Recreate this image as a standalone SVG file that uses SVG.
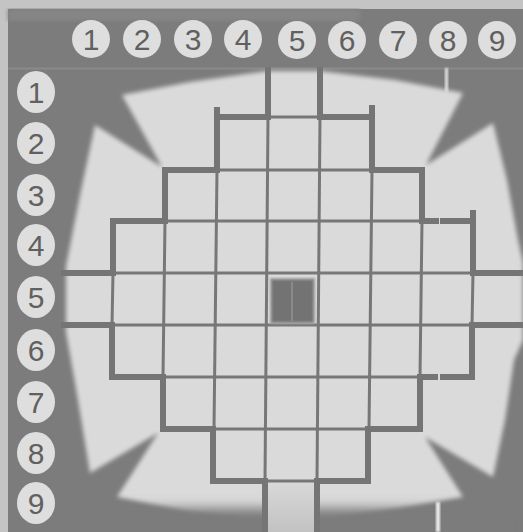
<svg xmlns="http://www.w3.org/2000/svg" width="523" height="532" viewBox="0 0 523 532">
<defs>
<filter id="soft" x="-5%" y="-5%" width="110%" height="110%"><feGaussianBlur stdDeviation="2"/></filter>
<filter id="soft1" x="-20%" y="-20%" width="140%" height="140%"><feGaussianBlur stdDeviation="1"/></filter>
<filter id="haze" x="-20%" y="-80%" width="140%" height="260%"><feGaussianBlur stdDeviation="6"/></filter>
<linearGradient id="cellShade" x1="0" y1="0" x2="0" y2="1"><stop offset="0" stop-color="#d9d9d9"/><stop offset="1" stop-color="#c2c2c2"/></linearGradient>
</defs>
<style>
.thin{stroke:#777777;stroke-width:3;fill:none}
.thick{stroke:#757575;stroke-width:6;fill:none;stroke-linecap:square}
.badge circle,.badge ellipse{fill:#dedede}
.badge text{font-family:'Liberation Sans',Arial,sans-serif;font-size:30px;fill:#606060;text-anchor:middle}
</style>
<g id="background">
<rect width="523" height="532" fill="#c4c4c4"/>
<rect x="8" y="9" width="515" height="523" fill="#7c7c7c"/>
<rect x="8" y="9" width="352" height="12" fill="#858585" filter="url(#soft)"/>
<line x1="8" y1="68.5" x2="523" y2="68.5" stroke="#8a8a8a" stroke-width="2"/>
<polygon fill="#dadada" filter="url(#soft)" points="122,95 190,82 268,71 320,71 395,80 463,93 426,165 493,123 507,180 518,240 523,262 523,340 514,360 505,420 493,477 425,437 463,497 400,508 330,518 265,520 190,512 117,497 158,433 90,473 78,400 66,332 66,266 80,195 95,125 162,167"/>
<rect x="60" y="508" width="450" height="40" fill="#7c7c7c" filter="url(#haze)"/>
<rect x="268" y="481" width="50" height="51" fill="url(#cellShade)"/>
<rect x="436" y="502" width="4" height="30" fill="#ececec" filter="url(#soft1)"/>
<rect x="445" y="68" width="3" height="24" fill="#e2e2e2" filter="url(#soft1)"/>
</g>
<g id="grid">
<g class="thin">
<line x1="268" y1="117" x2="320" y2="117"/>
<line x1="217" y1="170" x2="372" y2="170"/>
<line x1="165" y1="221" x2="422" y2="221"/>
<line x1="113" y1="273" x2="473" y2="273"/>
<line x1="112" y1="325" x2="472" y2="325"/>
<line x1="163" y1="377" x2="420" y2="377"/>
<line x1="213" y1="429" x2="368" y2="429"/>
<line x1="265" y1="481" x2="317" y2="481"/>
<line x1="113" y1="273" x2="112" y2="325"/>
<line x1="165" y1="221" x2="163" y2="377"/>
<line x1="217" y1="170" x2="214" y2="429"/>
<line x1="268" y1="117" x2="265" y2="481"/>
<line x1="320" y1="117" x2="317" y2="481"/>
<line x1="372" y1="170" x2="369" y2="429"/>
<line x1="422" y1="221" x2="420" y2="377"/>
<line x1="473" y1="273" x2="472" y2="325"/>
</g>
<g class="thick">
<path d="M268,70 V117 H217 V170 H165 V221 H113 V273 H64"/>
<path d="M64,325 H112 V377 H163 V429 H213 V481 H265 V532"/>
<path d="M320,70 V117 H372 V170 H422 V221 H436"/>
<path d="M443,221 H473 V273 H523"/>
<path d="M523,325 H472 V377 H443"/>
<path d="M435,377 H420 V429 H368 V481 H317 V532"/>
<path d="M217,110 V117 M372,108 V117 M473,213 V221"/>
</g>
</g>
<g id="center-mark">
<rect x="271" y="279" width="43" height="44" fill="#737373" stroke="#9c9c9c" stroke-width="2" filter="url(#soft1)"/>
<line x1="292" y1="282" x2="292" y2="321" stroke="#8a8a8a" stroke-width="2"/>
</g>
<g id="columns" class="badge">
<g id="col-1"><circle cx="91" cy="39" r="19"/><text x="91" y="50">1</text></g>
<g id="col-2"><circle cx="142" cy="39" r="19"/><text x="142" y="50">2</text></g>
<g id="col-3"><circle cx="193" cy="39" r="19"/><text x="193" y="50">3</text></g>
<g id="col-4"><circle cx="243" cy="39" r="19"/><text x="243" y="50">4</text></g>
<g id="col-5"><circle cx="297" cy="40" r="19"/><text x="297" y="51">5</text></g>
<g id="col-6"><circle cx="347" cy="40" r="19"/><text x="347" y="51">6</text></g>
<g id="col-7"><circle cx="398" cy="40" r="19"/><text x="398" y="51">7</text></g>
<g id="col-8"><circle cx="448" cy="40" r="19"/><text x="448" y="51">8</text></g>
<g id="col-9"><circle cx="497" cy="40" r="19"/><text x="497" y="51">9</text></g>
</g>
<g id="rows" class="badge">
<g id="row-1"><ellipse cx="36" cy="92" rx="19" ry="21"/><text x="36" y="103">1</text></g>
<g id="row-2"><ellipse cx="36" cy="143" rx="19" ry="21"/><text x="36" y="154">2</text></g>
<g id="row-3"><ellipse cx="36" cy="195" rx="19" ry="21"/><text x="36" y="206">3</text></g>
<g id="row-4"><ellipse cx="36" cy="245" rx="19" ry="21"/><text x="36" y="256">4</text></g>
<g id="row-5"><ellipse cx="36" cy="297" rx="19" ry="21"/><text x="36" y="308">5</text></g>
<g id="row-6"><ellipse cx="36" cy="350" rx="19" ry="21"/><text x="36" y="361">6</text></g>
<g id="row-7"><ellipse cx="36" cy="402" rx="19" ry="21"/><text x="36" y="413">7</text></g>
<g id="row-8"><ellipse cx="36" cy="453" rx="19" ry="21"/><text x="36" y="464">8</text></g>
<g id="row-9"><ellipse cx="36" cy="503" rx="19" ry="21"/><text x="36" y="514">9</text></g>
</g>
<g id="connectors"/>
</svg>
